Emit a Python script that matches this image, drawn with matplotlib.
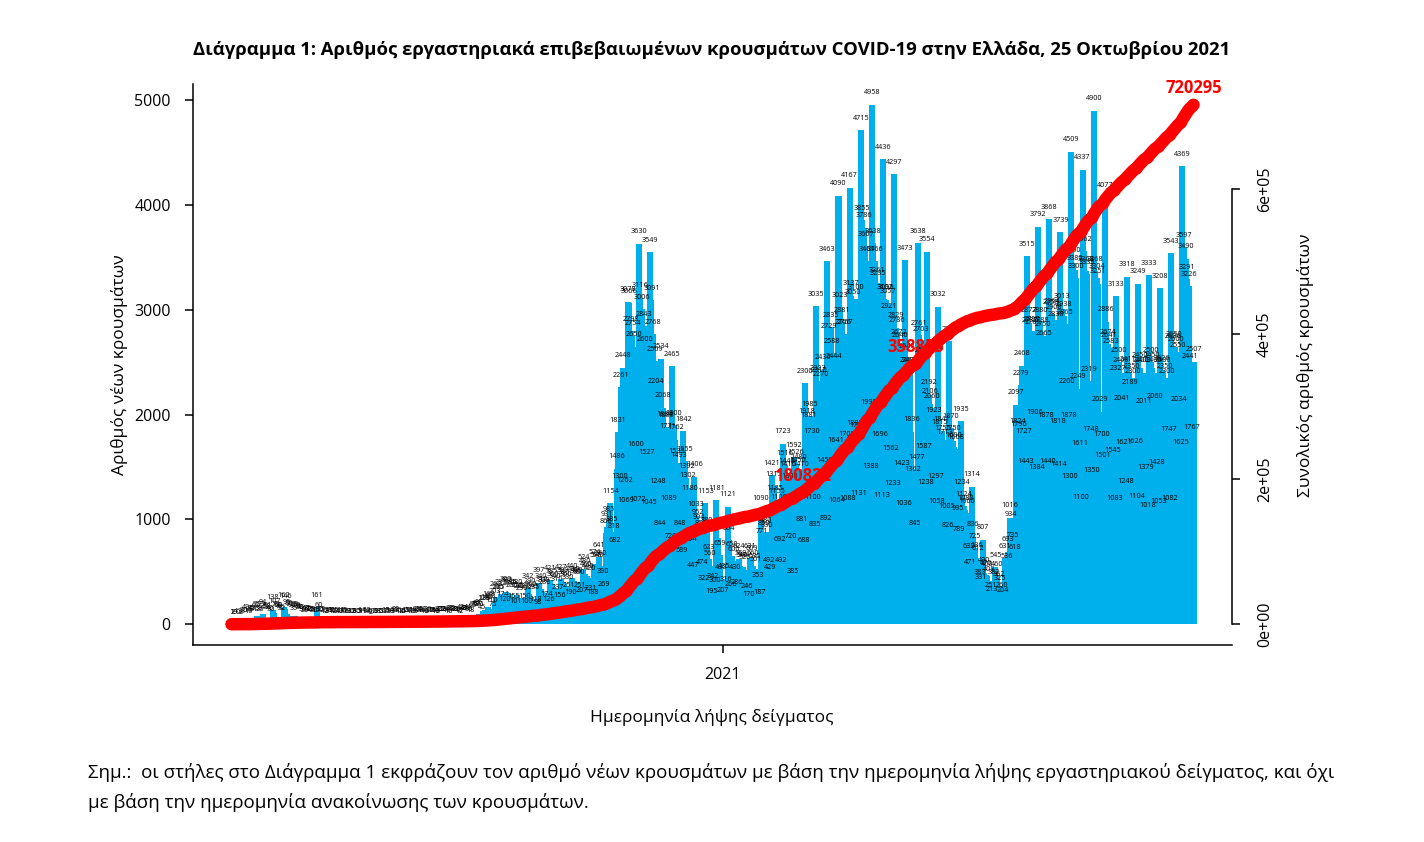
import matplotlib
matplotlib.use("Agg")
import matplotlib.pyplot as plt
import matplotlib.dates as mdates
import numpy as np
import pandas as pd

# new cases per day (sample date), one list per month
feb20 = [1, 2, 0, 4]
mar20 = [0, 3, 2, 3, 20, 49, 14,
         10, 35, 40, 31, 62, 76, 38,
         26, 73, 94, 45, 52, 61, 40,
         30, 138, 107, 70, 66, 60, 45,
         32, 162, 146]
apr20 = [95, 80, 70, 60, 35, 75, 60,
         55, 50, 45, 30, 20, 40, 35,
         30, 25, 28, 20, 15, 161, 60,
         30, 25, 20, 12, 8, 18, 15,
         16, 12]
may20 = [15, 8, 4, 12, 14, 10, 15, 9, 6, 3, 10, 12, 9, 8, 10, 5, 3, 14, 11, 9,
         13, 8, 4, 2, 12, 10, 9, 11, 8, 5, 3]
jun20 = [12, 15, 10, 9, 14, 8, 3,
         18, 22, 16, 12, 10, 6, 4,
         15, 20, 14, 12, 18, 9, 5,
         28, 24, 20, 16, 22, 10, 6,
         26, 20]
jul20 = [18, 16, 14, 10, 6,
         30, 25, 22, 28, 24, 16, 10,
         38, 32, 28, 30, 26, 18, 12,
         42, 38, 40, 36, 44, 30, 18,
         65, 70, 72, 80, 95]
aug20 = [70, 45,
         128, 135, 140, 168, 150, 110, 75,
         203, 262, 240, 235, 287, 174, 120,
         309, 302, 270, 285, 260, 155, 101,
         280, 255, 242, 230, 250, 150, 100,
         342]
sep20 = [290, 262, 245, 235, 118, 98,
         397, 340, 310, 300, 280, 174, 126,
         421, 385, 360, 340, 310, 237, 156,
         427, 399, 380, 360, 330, 251, 190,
         440, 410, 385]
oct20 = [400, 380, 251, 207,
         524, 480, 460, 440, 420, 231, 188,
         574, 546, 540, 641, 560, 390, 269,
         866, 931, 985, 1154, 885, 818, 682,
         1486, 1831, 1300, 2261, 2448, 1262]
nov20 = [1069,
         3078, 3066, 2798, 2754, 2650, 1600, 1072,
         3630, 3116, 3006, 2843, 2600, 1527, 1045,
         3549, 3091, 2768, 2509, 2204, 1248, 844,
         2534, 2068, 1884, 1880, 1771, 1089, 720,
         2465]
dec20 = [1900, 1762, 1535, 1493, 848, 589,
         1842, 1555, 1392, 1302, 1180, 694, 447,
         1406, 1033, 952, 904, 850, 474, 322,
         1153, 880, 623, 560, 195, 342, 300,
         1181, 820, 659, 430]
jan21 = [207, 435, 316,
         1121, 804, 266, 650, 600, 430, 286,
         624, 559, 540, 544, 520, 246, 170,
         631, 609, 560, 530, 501, 353, 187,
         1090, 771, 850, 880, 830, 492, 429]
feb21 = [1421, 1315, 1185, 1155, 1100, 692, 492,
         1723, 1516, 1440, 1410, 1300, 720, 385,
         1592, 1526, 1450, 1480, 1410, 881, 688,
         2300, 1918, 1881, 1985, 1730, 1100, 835]
mar21 = [3035, 2323, 2310, 2270, 2430, 1450, 892,
         3463, 2729, 2835, 2588, 2444, 1641, 1064,
         4090, 3023, 2881, 2766, 2767, 1700, 1088,
         4167, 3137, 3050, 1800, 3100, 1784, 1131,
         4715, 3855, 3786]
apr21 = [3607, 3467, 1999, 1388,
         4958, 3638, 3466, 3261, 3235, 1696, 1113,
         4436, 3102, 3096, 3057, 2921, 1562, 1233,
         4297, 2829, 2786, 2672, 2640, 1423, 1036,
         3473, 2540, 2407, 2400, 1836]
may21 = [1362, 845,
         1477, 3638, 2761, 2703, 2500, 1587, 1238,
         3554, 2192, 2106, 2060, 1923, 1297, 1058,
         3032, 1815, 1841, 1755, 1713, 1005, 826,
         2700, 1870, 1750, 1690, 1668, 995, 789,
         1935]
jun21 = [1234, 1124, 1088, 1060, 632, 471,
         1314, 836, 725, 636, 612, 383, 331,
         807, 490, 470, 460, 408, 251, 213,
         382, 545, 460, 362, 325, 260, 204,
         631, 536, 693]
jul21 = [1016, 934, 735, 618,
         2097, 1824, 1796, 2279, 2468, 1727, 1443,
         3515, 2877, 2787, 2797, 2765, 1906, 1384,
         3792, 2880, 2788, 2750, 2665, 1878, 1440,
         3868, 2958, 2964, 2908, 2838, 1818]
aug21 = [1414,
         3739, 3013, 2938, 2865, 2200, 1878, 1300,
         4509, 3450, 3380, 3300, 2249, 1611, 1100,
         4337, 3562, 3368, 3339, 2319, 1748, 1350,
         4900, 3368, 3304, 3251, 2029, 1700, 1501,
         4077, 2886]
sep21 = [2674, 2641, 2583, 1545, 1083,
         3133, 2327, 2500, 2400, 2041, 1621, 1248,
         3318, 2411, 2189, 2350, 2300, 1626, 1104,
         3249, 2450, 2400, 2400, 2011, 1379, 1018,
         3333, 2500, 2450, 2400]
oct21 = [2060, 1428, 1053,
         3208, 2426, 2400, 2350, 2300, 1747, 1082,
         3543, 2636, 2650, 2600, 2550, 2034, 1625,
         4369, 3597, 3490, 3291, 3226, 2441, 1767,
         2507]

month_starts = ["2020-02-26", "2020-03-01", "2020-04-01", "2020-05-01", "2020-06-01",
                "2020-07-01", "2020-08-01", "2020-09-01", "2020-10-01", "2020-11-01",
                "2020-12-01", "2021-01-01", "2021-02-01", "2021-03-01", "2021-04-01",
                "2021-05-01", "2021-06-01", "2021-07-01", "2021-08-01", "2021-09-01",
                "2021-10-01"]
month_values = [feb20, mar20, apr20, may20, jun20, jul20, aug20, sep20, oct20, nov20,
                dec20, jan21, feb21, mar21, apr21, may21, jun21, jul21, aug21, sep21,
                oct21]

# totals written in red on the cumulative line
marked_totals = [180822, 358855]
total_label = "720295"

dates = []
cases = []
for start, vals in zip(month_starts, month_values):
    dates.extend(pd.date_range(start, periods=len(vals), freq="D"))
    cases.extend(vals)
x = mdates.date2num(pd.DatetimeIndex(dates).to_pydatetime())
cases = np.array(cases)
cumulative = np.cumsum(cases)

plt.rcParams['font.family'] = ['Open Sans', 'DejaVu Sans']

W, H = 1424, 842
fig = plt.figure(figsize=(W / 100, H / 100), dpi=100)
ax = fig.add_axes([193 / W, 1 - 645 / H, (1232 - 193) / W, (645 - 84) / H])

bar_blue = '#00b0ec'
ax.bar(x, cases, width=3.8, color=bar_blue, linewidth=0, zorder=2)
for xi, v in zip(x, cases):
    ax.annotate(str(v), (xi, v), xytext=(0, 8.6), textcoords='offset points',
                ha='center', va='center', fontsize=5.2, zorder=3)

span = x[-1] - x[0]
ax.set_xlim(x[0] - 0.04 * span, x[-1] + 0.04 * span)
ymax = cases.max()
ax.set_ylim(-0.04 * ymax, 1.04 * ymax)

ax.set_yticks(range(0, 5001, 1000))
ax.set_xticks([mdates.date2num(pd.Timestamp("2021-01-01").to_pydatetime())])
ax.set_xticklabels(['2021'])
ax.tick_params(axis='both', direction='out', length=6, width=1.1, labelsize=11.5, pad=10)
ax.spines['top'].set_visible(False)
ax.spines['right'].set_visible(False)
ax.spines['left'].set_linewidth(1.1)
ax.spines['bottom'].set_linewidth(1.1)

# cumulative cases on the second axis
ax2 = ax.twinx()
ax2.plot(x, cumulative, color='red', lw=9, solid_capstyle='round', zorder=5)
top = cumulative.max()
ax2.set_ylim(-0.04 * top, 1.04 * top)
ax2.set_xlim(ax.get_xlim())
for val in marked_totals:
    i = int(np.argmax(cumulative >= val))
    ax2.annotate(str(val), (x[i], cumulative[i]), xytext=(0, 12), textcoords='offset points',
                 ha='center', va='center', color='red', fontsize=12, fontweight='bold',
                 zorder=4)
ax2.annotate(total_label, (x[-1], cumulative[-1]), xytext=(0, 12), textcoords='offset points',
             ha='center', va='center', color='red', fontsize=12, fontweight='bold', zorder=6)

ax2.set_yticks([0, 200000, 400000, 600000])
ax2.set_yticklabels(['0e+00', '2e+05', '4e+05', '6e+05'], rotation=90, va='center')
ax2.tick_params(axis='y', direction='out', length=6, width=1.1, labelsize=11.5, pad=12)
for side in ['top', 'left', 'bottom']:
    ax2.spines[side].set_visible(False)
ax2.spines['right'].set_bounds(0, 600000)
ax2.spines['right'].set_linewidth(1.1)

fig.text(712 / W, 1 - 50 / H,
         "Διάγραμμα 1: Αριθμός εργαστηριακά επιβεβαιωμένων κρουσμάτων COVID-19 στην Ελλάδα, 25 Οκτωβρίου 2021",
         ha='center', va='center', fontsize=13.3, fontweight='bold')
fig.text(120 / W, 1 - 365 / H, "Αριθμός νέων κρουσμάτων", rotation=90,
         ha='center', va='center', fontsize=12.5)
fig.text(1305 / W, 1 - 365 / H, "Συνολικός αριθμός κρουσμάτων", rotation=90,
         ha='center', va='center', fontsize=12.5)
fig.text(712 / W, 1 - 717 / H, "Ημερομηνία λήψης δείγματος",
         ha='center', va='center', fontsize=12.5)
fig.text(88 / W, 1 - 773 / H,
         "Σημ.:  οι στήλες στο Διάγραμμα 1 εκφράζουν τον αριθμό νέων κρουσμάτων με βάση την ημερομηνία λήψης εργαστηριακού δείγματος, και όχι",
         ha='left', va='center', fontsize=13.5)
fig.text(88 / W, 1 - 802 / H, "με βάση την ημερομηνία ανακοίνωσης των κρουσμάτων.",
         ha='left', va='center', fontsize=13.5)

fig.savefig("out.png", dpi=100)
